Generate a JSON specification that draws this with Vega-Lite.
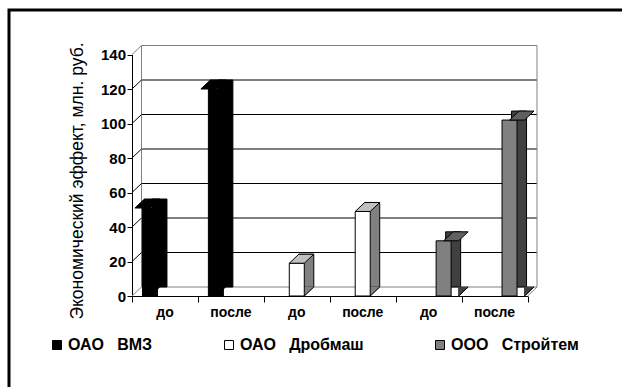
{
  "$schema": "https://vega.github.io/schema/vega-lite/v6.json",
  "width": 613,
  "height": 377,
  "autosize": {"type": "none"},
  "padding": {"left": 9, "top": 10, "right": 0, "bottom": 0},
  "background": "white",
  "config": {
    "font": "Liberation Sans",
    "view": {"stroke": "#000000", "strokeWidth": 3, "strokeDash": [613, 990, 377], "strokeCap": "square", "fill": "white"}
  },
  "data": {
    "values": [
      {"company": "ОАО ВМЗ", "period": "до", "slot": 1, "value": 51},
      {"company": "ОАО ВМЗ", "period": "после", "slot": 2, "value": 120},
      {"company": "ОАО Дробмаш", "period": "до", "slot": 3, "value": 19},
      {"company": "ОАО Дробмаш", "period": "после", "slot": 4, "value": 49},
      {"company": "ООО Стройтем", "period": "до", "slot": 5, "value": 32},
      {"company": "ООО Стройтем", "period": "после", "slot": 6, "value": 102}
    ]
  },
  "resolve": {"scale": {"xOffset": "independent"}},
  "layer": [
    {
      "data": {"values": [{"v": 0}, {"v": 20}, {"v": 40}, {"v": 60}, {"v": 80}, {"v": 100}, {"v": 120}, {"v": 140}]},
      "mark": {"type": "rule", "xOffset": 9.5, "x2Offset": 9.5, "yOffset": -9, "strokeWidth": 1},
      "encoding": {
        "x": {"datum": 1, "type": "ordinal", "bandPosition": 0,
              "scale": {"type": "band", "domain": [1, 2, 3, 4, 5, 6], "range": [123, 518.5], "paddingInner": 0, "paddingOuter": 0}},
        "x2": {"datum": 6, "bandPosition": 1},
        "y": {"field": "v", "type": "quantitative", "title": "Экономический эффект, млн. руб.",
              "scale": {"domain": [0, 140], "range": [286, 44.5], "nice": false}},
        "color": {"condition": {"test": "datum.v === 0 || datum.v === 140", "value": "#808080"}, "value": "#000000"}
      }
    },
    {
      "data": {"values": [{"edge": "left"}]},
      "mark": {"type": "rule", "xOffset": 9.5, "yOffset": -9, "y2Offset": -9, "color": "#808080", "strokeWidth": 1},
      "encoding": {
        "x": {"datum": 1, "type": "ordinal", "bandPosition": 0},
        "y": {"datum": 0, "type": "quantitative"},
        "y2": {"datum": 140}
      }
    },
    {
      "data": {"values": [{"edge": "right"}]},
      "mark": {"type": "rule", "xOffset": 9.5, "yOffset": -9, "y2Offset": -9, "color": "#808080", "strokeWidth": 1},
      "encoding": {
        "x": {"datum": 6, "type": "ordinal", "bandPosition": 1},
        "y": {"datum": 0, "type": "quantitative"},
        "y2": {"datum": 140}
      }
    },
    {
      "data": {"values": [{"v": 0}, {"v": 20}, {"v": 40}, {"v": 60}, {"v": 80}, {"v": 100}, {"v": 120}, {"v": 140}]},
      "mark": {"type": "point", "shape": "M 0 0 L 9.5 -9", "size": 4, "filled": false, "strokeWidth": 1, "opacity": 1},
      "encoding": {
        "x": {"datum": 1, "type": "ordinal", "bandPosition": 0},
        "y": {"field": "v", "type": "quantitative", "title": "Экономический эффект, млн. руб."},
        "color": {"condition": {"test": "datum.v === 0 || datum.v === 140", "value": "#808080"}, "value": "#000000"}
      }
    },
    {
      "data": {"values": [{"edge": "floor"}]},
      "mark": {"type": "point", "shape": "M 0 0 L 9.5 -9", "size": 4, "filled": false, "strokeWidth": 1, "opacity": 1, "color": "#808080"},
      "encoding": {
        "x": {"datum": 6, "type": "ordinal", "bandPosition": 1},
        "y": {"datum": 0, "type": "quantitative"}
      }
    },
    {
      "mark": {"type": "bar", "yOffset": -9, "y2Offset": -9, "stroke": "#000000", "strokeWidth": 1},
      "encoding": {
        "x": {"field": "slot", "type": "ordinal", "title": null},
        "xOffset": {"field": "company", "scale": {"domain": ["ОАО ВМЗ", "ОАО Дробмаш", "ООО Стройтем"], "range": [19.96, 64.96], "paddingInner": 0, "paddingOuter": 0}},
        "y": {"field": "value", "type": "quantitative", "stack": null, "title": "Экономический эффект, млн. руб."},
        "y2": {"datum": 0},
        "fill": {"condition": [{"test": "datum.company === 'ОАО ВМЗ'", "value": "#000000"}, {"test": "datum.company === 'ОАО Дробмаш'", "value": "#808080"}], "value": "#404040"}
      }
    },
    {
      "mark": {"type": "point", "shape": "M 7.5 0 L 17 -9 L 7.5 -9 Z", "size": 4, "filled": true, "strokeWidth": 1, "strokeJoin": "round", "opacity": 1},
      "encoding": {
        "x": {"field": "slot", "type": "ordinal", "title": null},
        "xOffset": {"field": "company", "scale": {"domain": ["ОАО ВМЗ", "ОАО Дробмаш", "ООО Стройтем"], "range": [10.46, 55.46], "paddingInner": 0, "paddingOuter": 0}},
        "y": {"datum": 0, "type": "quantitative"},
        "fill": {"condition": [{"test": "datum.company === 'ОАО ВМЗ'", "value": "#000000"}, {"test": "datum.company === 'ОАО Дробмаш'", "value": "#808080"}], "value": "#404040"},
        "stroke": {"condition": [{"test": "datum.company === 'ОАО ВМЗ'", "value": "#000000"}, {"test": "datum.company === 'ОАО Дробмаш'", "value": "#808080"}], "value": "#404040"}
      }
    },
    {
      "mark": {"type": "bar", "stroke": "#000000", "strokeWidth": 1},
      "encoding": {
        "x": {"field": "slot", "type": "ordinal", "title": null,
              "axis": {"orient": "bottom", "offset": -91, "labels": false, "title": null, "ticks": true, "tickSize": 6, "tickBand": "extent", "tickColor": "#000000", "domainColor": "#000000", "grid": false}},
        "xOffset": {"field": "company", "scale": {"domain": ["ОАО ВМЗ", "ОАО Дробмаш", "ООО Стройтем"], "range": [10.46, 55.46], "paddingInner": 0, "paddingOuter": 0}},
        "y": {"field": "value", "type": "quantitative", "stack": null,
              "axis": {"orient": "left", "offset": -123, "values": [0, 20, 40, 60, 80, 100, 120, 140], "grid": false,
                       "title": "Экономический эффект, млн. руб.", "titleFontSize": 17.5, "titleFontWeight": "normal", "titleColor": "#000000", "titlePadding": 14, "titleY": 170.5,
                       "labelFontSize": 15, "labelFontWeight": "bold", "labelColor": "#000000", "labelPadding": 1.5,
                       "tickSize": 5, "tickColor": "#000000", "domainColor": "#000000"}},
        "y2": {"datum": 0},
        "fill": {"field": "company", "type": "nominal",
                 "scale": {"domain": ["ОАО ВМЗ", "ОАО Дробмаш", "ООО Стройтем"], "range": ["#000000", "#ffffff", "#808080"]},
                 "legend": {"orient": "none", "legendX": 40, "legendY": 327, "direction": "horizontal", "title": null,
                            "symbolType": "square", "symbolSize": 81, "symbolStrokeColor": "#000000", "symbolStrokeWidth": 1,
                            "labelFontSize": 16, "labelFontWeight": "bold", "labelColor": "#000000", "labelOffset": 3,
                            "columnPadding": 68, "padding": 0,
                            "labelExpr": "replace(datum.label, ' ', '\u00a0\u00a0 ')"}}
      }
    },
    {
      "mark": {"type": "point", "shape": "M -7.5 0 L 7.5 0 L 17 -9 L 2 -9 Z", "size": 4, "filled": true, "stroke": "#000000", "strokeWidth": 1, "strokeJoin": "round", "opacity": 1},
      "encoding": {
        "x": {"field": "slot", "type": "ordinal", "title": null},
        "xOffset": {"field": "company", "scale": {"domain": ["ОАО ВМЗ", "ОАО Дробмаш", "ООО Стройтем"], "range": [10.46, 55.46], "paddingInner": 0, "paddingOuter": 0}},
        "y": {"field": "value", "type": "quantitative", "title": "Экономический эффект, млн. руб."},
        "fill": {"condition": [{"test": "datum.company === 'ОАО ВМЗ'", "value": "#000000"}, {"test": "datum.company === 'ОАО Дробмаш'", "value": "#c0c0c0"}], "value": "#606060"}
      }
    },
    {
      "mark": {"type": "point", "shape": "M 7.5 0 L 17 -9", "size": 4, "filled": false, "stroke": "#000000", "strokeWidth": 1, "opacity": 1},
      "encoding": {
        "x": {"field": "slot", "type": "ordinal", "title": null},
        "xOffset": {"field": "company", "scale": {"domain": ["ОАО ВМЗ", "ОАО Дробмаш", "ООО Стройтем"], "range": [10.46, 55.46], "paddingInner": 0, "paddingOuter": 0}},
        "y": {"datum": 0, "type": "quantitative"}
      }
    },
    {
      "mark": {"type": "text", "dy": 17, "baseline": "middle", "align": "center", "fontSize": 14, "fontWeight": "bold", "color": "#000000"},
      "encoding": {
        "x": {"field": "slot", "type": "ordinal", "title": null},
        "y": {"datum": 0, "type": "quantitative"},
        "text": {"field": "period"}
      }
    }
  ]
}
